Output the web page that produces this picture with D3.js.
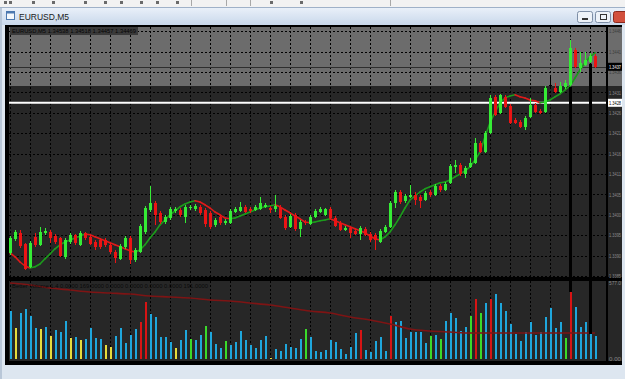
<!DOCTYPE html>
<html><head><meta charset="utf-8">
<script src="https://cdn.jsdelivr.net/npm/d3@7/dist/d3.min.js"></script>
<style>html,body{margin:0;padding:0;background:#dfe7f1;overflow:hidden}svg{display:block}</style>
</head><body><svg id="c" width="625" height="379"></svg>
<script>
// ---------- DATA ----------
const windowTitle = "EURUSD,M5";
const chartLabel = "EURUSD,M5  1.34538 1.34518 1.34457 1.34469";
const volumeLabel = "Better Volume 1.4 0.0000 169.0000 0.0000 0.0000 0.0000 0.0000 191.0000";

const open = [1.33908,1.33943,1.33958,1.33930,1.33873,1.33948,1.33928,1.33958,1.33960,1.33950,
1.33945,1.33898,1.33935,1.33953,1.33928,1.33958,1.33948,1.33935,1.33940,1.33940,
1.33928,1.33910,1.33893,1.33923,1.33945,1.33890,1.33910,1.33960,1.34015,1.34033,
1.34008,1.33985,1.33995,1.34013,1.34015,1.33998,1.34020,1.34018,1.34023,1.34015,
1.34008,1.33978,1.33998,1.33983,1.33983,1.34010,1.34013,1.34023,1.34018,1.34015,
1.34018,1.34023,1.34020,1.34018,1.34023,1.33998,1.33973,1.34003,1.33968,1.33985,
1.33980,1.33998,1.34010,1.34003,1.34018,1.33995,1.33983,1.33965,1.33970,1.33963,
1.33955,1.33968,1.33955,1.33953,1.33935,1.33960,1.33973,1.34033,1.34060,1.34038,
1.34048,1.34053,1.34048,1.34040,1.34060,1.34053,1.34075,1.34065,1.34083,1.34123,
1.34128,1.34105,1.34123,1.34133,1.34183,1.34160,1.34208,1.34298,1.34258,1.34298,
1.34275,1.34240,1.34235,1.34223,1.34248,1.34278,1.34263,1.34260,1.34328,1.34320,
1.34310,1.34323,1.34328,1.34415,1.34370,1.34378,1.34385,1.34400];
const high = [1.33950,1.33965,1.33965,1.33933,1.33938,1.33958,1.33973,1.33970,1.33965,1.33955,
1.33948,1.33945,1.33958,1.33955,1.33963,1.33960,1.33953,1.33940,1.33945,1.33945,
1.33933,1.33915,1.33930,1.33950,1.33950,1.33920,1.33980,1.34025,1.34075,1.34038,
1.34013,1.34003,1.34023,1.34023,1.34020,1.34028,1.34028,1.34030,1.34028,1.34020,
1.34013,1.33995,1.34003,1.33993,1.34018,1.34023,1.34035,1.34028,1.34023,1.34028,
1.34048,1.34033,1.34025,1.34053,1.34028,1.34003,1.34005,1.34008,1.33990,1.33990,
1.34003,1.34018,1.34023,1.34020,1.34023,1.34000,1.33988,1.33975,1.33975,1.33968,
1.33975,1.33973,1.33960,1.33958,1.33968,1.33978,1.34038,1.34065,1.34065,1.34055,
1.34078,1.34060,1.34053,1.34063,1.34065,1.34080,1.34080,1.34085,1.34130,1.34140,
1.34133,1.34125,1.34145,1.34195,1.34188,1.34213,1.34303,1.34303,1.34305,1.34303,
1.34280,1.34245,1.34240,1.34250,1.34295,1.34283,1.34268,1.34325,1.34353,1.34333,
1.34335,1.34340,1.34440,1.34420,1.34410,1.34410,1.34408,1.34405];
const low = [1.33903,1.33938,1.33920,1.33865,1.33870,1.33923,1.33925,1.33953,1.33933,1.33930,
1.33898,1.33893,1.33930,1.33928,1.33925,1.33940,1.33928,1.33915,1.33918,1.33923,
1.33905,1.33883,1.33890,1.33918,1.33880,1.33885,1.33908,1.33955,1.34010,1.33978,
1.33980,1.33980,1.33990,1.34008,1.33998,1.33983,1.34015,1.34013,1.34003,1.33973,
1.33968,1.33973,1.33978,1.33978,1.33980,1.34008,1.34010,1.34008,1.34008,1.34013,
1.34015,1.34020,1.34008,1.34010,1.33993,1.33965,1.33970,1.33963,1.33948,1.33978,
1.33978,1.33995,1.34008,1.34000,1.33993,1.33973,1.33963,1.33963,1.33945,1.33953,
1.33940,1.33950,1.33935,1.33915,1.33933,1.33958,1.33970,1.34020,1.34030,1.34033,
1.34045,1.34028,1.34020,1.34038,1.34048,1.34050,1.34060,1.34063,1.34080,1.34108,
1.34100,1.34095,1.34120,1.34130,1.34158,1.34158,1.34205,1.34250,1.34255,1.34270,
1.34230,1.34230,1.34220,1.34215,1.34245,1.34258,1.34255,1.34258,1.34320,1.34308,
1.34308,1.34318,1.34325,1.34370,1.34360,1.34375,1.34383,1.34370];
const close = [1.33945,1.33960,1.33925,1.33868,1.33933,1.33928,1.33960,1.33963,1.33945,1.33935,
1.33900,1.33940,1.33953,1.33933,1.33958,1.33945,1.33930,1.33923,1.33923,1.33928,
1.33910,1.33895,1.33925,1.33945,1.33890,1.33915,1.33975,1.34020,1.34033,1.34003,
1.33985,1.33998,1.34018,1.34018,1.34003,1.34023,1.34023,1.34025,1.34008,1.33980,
1.33973,1.33990,1.33983,1.33988,1.34013,1.34018,1.34023,1.34010,1.34013,1.34023,
1.34033,1.34028,1.34015,1.34025,1.33995,1.33970,1.34000,1.33968,1.33985,1.33983,
1.33998,1.34013,1.34018,1.34018,1.33995,1.33975,1.33965,1.33970,1.33958,1.33955,
1.33970,1.33953,1.33940,1.33940,1.33963,1.33973,1.34033,1.34060,1.34035,1.34050,
1.34053,1.34040,1.34038,1.34058,1.34053,1.34075,1.34065,1.34080,1.34125,1.34128,
1.34105,1.34120,1.34133,1.34183,1.34160,1.34208,1.34295,1.34253,1.34303,1.34273,
1.34233,1.34233,1.34223,1.34245,1.34278,1.34260,1.34258,1.34320,1.34328,1.34310,
1.34325,1.34333,1.34420,1.34373,1.34383,1.34390,1.34400,1.34373];

const maValues = [1.33908,1.33898,1.33885,1.33875,1.33870,1.33873,1.33880,1.33893,1.33905,1.33918,
1.33928,1.33935,1.33940,1.33945,1.33950,1.33955,1.33953,1.33948,1.33943,1.33938,
1.33933,1.33928,1.33923,1.33918,1.33913,1.33910,1.33915,1.33928,1.33945,1.33960,
1.33978,1.33990,1.34003,1.34013,1.34023,1.34030,1.34035,1.34038,1.34035,1.34028,
1.34020,1.34010,1.34003,1.33995,1.33993,1.33995,1.34000,1.34005,1.34010,1.34015,
1.34020,1.34023,1.34025,1.34028,1.34023,1.34015,1.34008,1.34000,1.33993,1.33985,
1.33983,1.33985,1.33988,1.33990,1.33993,1.33988,1.33983,1.33978,1.33973,1.33968,
1.33963,1.33958,1.33950,1.33943,1.33940,1.33948,1.33960,1.33978,1.33998,1.34020,
1.34040,1.34050,1.34060,1.34068,1.34073,1.34078,1.34083,1.34085,1.34090,1.34098,
1.34105,1.34113,1.34123,1.34140,1.34160,1.34198,1.34233,1.34260,1.34283,1.34295,
1.34300,1.34303,1.34298,1.34295,1.34290,1.34288,1.34283,1.34285,1.34290,1.34298,
1.34305,1.34315,1.34325,1.34345,1.34365,1.34383,1.34398,1.34408];

const volume = [364,235,349,380,326,235,228,243,175,220,
205,288,159,167,144,152,235,159,152,106,
91,175,235,121,182,228,281,433,342,319,
167,167,129,83,144,220,152,144,182,250,
205,114,83,137,106,129,213,144,106,83,
144,175,8,76,61,114,91,83,152,228,
167,61,53,68,144,129,76,38,91,197,
220,68,53,137,167,61,326,281,288,159,
205,205,205,121,175,182,152,288,349,311,
213,243,326,455,349,425,455,493,425,364,
266,190,137,205,281,182,205,319,387,235,
281,159,509,395,243,281,190,175];
// B = normal, Y = low volume, R = climax, G = churn
const volumeType = ["B","Y","B","B","B","B","Y","B","Y","B",
"B","B","Y","B","Y","B","B","B","B","Y",
"Y","B","B","B","B","B","R","R","B","B",
"B","B","B","Y","B","B","G","B","B","G",
"B","B","B","G","B","B","B","B","B","B",
"B","B","Y","B","B","B","B","B","B","G",
"B","B","B","B","B","B","B","B","B","B",
"R","B","B","B","B","B","R","B","B","B",
"B","B","B","B","G","B","G","B","B","B",
"B","B","G","R","G","B","R","B","B","B",
"B","B","B","B","B","B","B","B","B","B",
"B","G","R","B","B","B","B","B"];

const volMaBar = [0,4,8,12,16,20,24,28,32,36,40,44,48,52,56,60,64,68,72,76,80,84,88,92,96,100,104,108,112,116,117];
const volMaValue = [577,562,539,524,509,501,493,478,471,463,448,440,425,410,387,364,349,319,296,266,228,213,205,197,197,197,197,197,197,197,197];

const priceTicks = [1.33850,1.33901,1.33952,1.34003,1.34054,1.34105,1.34156,1.34207,1.34258,1.34309,1.34360,1.34411,1.34462];
const volumeTicks = [577, 0];
const volumeTickText = ["577.0", "0.00"];
const zonePrices = [1.34325, 1.34600];
const whiteLevel = 1.34283;
const bidPrice = 1.34373;
const markedBars = [112, 116];

// ---------- LAYOUT ----------
const L = 9, R = 606, mainTop = 27, mainBot = 277, volTop = 281, volBot = 361, axisR = 622;
const FONT = 'Liberation Sans, Arial, sans-serif';
const svg = d3.select('#c');
const defs = svg.append('defs');
const tg = defs.append('linearGradient').attr('id','tb').attr('x1',0).attr('y1',0).attr('x2',0).attr('y2',1);
tg.append('stop').attr('offset','0%').attr('stop-color','#e9f0f9');
tg.append('stop').attr('offset','100%').attr('stop-color','#c9d8eb');
defs.append('clipPath').attr('id','mainClip').append('rect').attr('x',L).attr('y',mainTop).attr('width',R-L).attr('height',mainBot-mainTop);
defs.append('clipPath').attr('id','volClip').append('rect').attr('x',L).attr('y',volTop).attr('width',R-L).attr('height',volBot-volTop);
defs.append('clipPath').attr('id','zoneClip').append('rect').attr('x',L).attr('y',mainTop).attr('width',axisR-L).attr('height',mainBot-mainTop);

const x = d3.scaleLinear().domain([0, open.length-1]).range([10, 595]);
const y = d3.scaleLinear().domain([1.33850, 1.34540]).range([276, 0]);
const yv = d3.scaleLinear().domain([0, 577]).range([359, 283]);

// window frame
svg.append('rect').attr('width',625).attr('height',379).attr('fill','#dde6f0');
svg.append('rect').attr('x',0).attr('y',0).attr('width',625).attr('height',7).attr('fill','#f2f2f2');
[191,226,250,390].forEach(sx=>svg.append('rect').attr('x',sx).attr('y',0).attr('width',1).attr('height',6).attr('fill','#a8a8a8'));
[4,9,32,52,84,104,120,140,156,176,270,300].forEach(gx=>svg.append('rect').attr('x',gx).attr('y',1).attr('width',3).attr('height',3).attr('fill','#6a6a6a'));
svg.append('rect').attr('x',0).attr('y',7).attr('width',625).attr('height',1).attr('fill','#9fb1c8');
svg.append('rect').attr('x',0).attr('y',8).attr('width',625).attr('height',17).attr('fill','url(#tb)');
svg.append('rect').attr('x',0).attr('y',8).attr('width',2).attr('height',371).attr('fill','#b9c7d8');
// title icon
svg.append('rect').attr('x',6.5).attr('y',11.5).attr('width',8).attr('height',8).attr('fill','#f4f8fc').attr('stroke','#4d79b0');
svg.append('rect').attr('x',6.5).attr('y',11.5).attr('width',8).attr('height',2).attr('fill','#4d79b0');
svg.append('text').attr('x',19).attr('y',19.5).attr('font-family',FONT).attr('font-size',8.5).attr('fill','#1a1a1a').text(windowTitle);
// buttons
[[577,'min'],[595,'max']].forEach(([bx,k])=>{
  svg.append('rect').attr('x',bx+0.5).attr('y',11.5).attr('width',15).attr('height',11).attr('rx',2).attr('fill','#edf2f8').attr('stroke','#7d8ea6');
  if(k==='min') svg.append('rect').attr('x',bx+5).attr('y',18).attr('width',6).attr('height',2).attr('fill','#333');
  else svg.append('rect').attr('x',bx+5.5).attr('y',14.5).attr('width',6).attr('height',5).attr('fill','none').attr('stroke','#333');
});
svg.append('rect').attr('x',613.5).attr('y',11.5).attr('width',16).attr('height',11).attr('rx',2).attr('fill','#d2503d').attr('stroke','#8a2a1e');

// black chart container
svg.append('rect').attr('x',5).attr('y',25).attr('width',617).attr('height',340).attr('fill','#000');
// backgrounds
svg.append('rect').attr('x',L).attr('y',mainTop).attr('width',axisR-L).attr('height',mainBot-mainTop).attr('fill','#272727');
svg.append('rect').attr('x',L).attr('y',volTop).attr('width',axisR-L).attr('height',volBot-volTop).attr('fill','#272727');

// zone
svg.append('rect').attr('clip-path','url(#zoneClip)')
  .attr('x',L).attr('width',axisR-L)
  .attr('y',y(zonePrices[1])).attr('height',y(zonePrices[0])-y(zonePrices[1]))
  .attr('fill','#6c6c6c');

// grid
const gridG = svg.append('g').attr('stroke','#000').attr('stroke-width',1).attr('stroke-dasharray','2,2').attr('shape-rendering','crispEdges');
priceTicks.forEach(p=>{
  const yy = Math.round(y(p))+0.5;
  gridG.append('line').attr('x1',L).attr('x2',R).attr('y1',yy).attr('y2',yy);
});
d3.range(0, open.length, 4).forEach(i=>{
  const xx = Math.round(x(i))+0.5;
  gridG.append('line').attr('x1',xx).attr('x2',xx).attr('y1',mainTop).attr('y2',mainBot);
  gridG.append('line').attr('x1',xx).attr('x2',xx).attr('y1',volTop).attr('y2',volBot);
});

const main = svg.append('g').attr('clip-path','url(#mainClip)');
// bid line and white level
main.append('line').attr('x1',L).attr('x2',R).attr('y1',Math.round(y(bidPrice))+0.5).attr('y2',Math.round(y(bidPrice))+0.5).attr('stroke','#2e2e2e').attr('stroke-width',1);
main.append('line').attr('x1',L).attr('x2',R).attr('y1',y(whiteLevel)).attr('y2',y(whiteLevel)).attr('stroke','#ffffff').attr('stroke-width',2);

// MA line, coloured by direction
for(let i=1;i<maValues.length;i++){
  main.append('line').attr('x1',x(i-1)).attr('y1',y(maValues[i-1])).attr('x2',x(i)).attr('y2',y(maValues[i]))
    .attr('stroke', maValues[i] >= maValues[i-1] ? '#1c9c1c' : '#e01a1a').attr('stroke-width',1.6).attr('stroke-linecap','round');
}

// candles
const cg = main.append('g').attr('shape-rendering','crispEdges');
open.forEach((o,i)=>{
  const c = close[i];
  const col = c > o ? '#35ec35' : (c < o ? '#ec1414' : '#000000');
  const cx = Math.round(x(i));
  cg.append('line').attr('x1',cx+0.5).attr('x2',cx+0.5).attr('y1',y(high[i])).attr('y2',y(low[i])).attr('stroke',col).attr('stroke-width',1);
  const top = y(Math.max(o,c)), bot = y(Math.min(o,c));
  cg.append('rect').attr('x',cx-1).attr('width',3).attr('y',top).attr('height',Math.max(1,bot-top)).attr('fill',col);
});

// volume
const vg = svg.append('g').attr('clip-path','url(#volClip)');
const vcol = {B:'#1ea6dc', Y:'#e6dc3c', R:'#d81414', G:'#3ada2a'};
const vbars = vg.append('g').attr('shape-rendering','crispEdges');
volume.forEach((v,i)=>{
  const cx = Math.round(x(i));
  vbars.append('rect').attr('x',cx-0.5).attr('width',2).attr('y',yv(v)).attr('height',yv(0)-yv(v)).attr('fill',vcol[volumeType[i]]);
});
vg.append('path').datum(volMaBar.map((b,k)=>[b,volMaValue[k]]))
  .attr('d', d3.line().x(d=>x(d[0])).y(d=>yv(d[1])).curve(d3.curveMonotoneX))
  .attr('fill','none').attr('stroke','#7e1414').attr('stroke-width',1.6);

// marked bars (black connector lines)
markedBars.forEach(i=>{
  svg.append('line').attr('x1',x(i)+0.5).attr('x2',x(i)+0.5).attr('y1',y(low[i])+1).attr('y2',yv(volume[i]))
    .attr('stroke','#000').attr('stroke-width',3);
});

// separators
svg.append('rect').attr('x',L).attr('y',mainBot).attr('width',axisR-L).attr('height',volTop-mainBot).attr('fill','#000');
svg.append('rect').attr('x',R).attr('y',mainTop).attr('width',2).attr('height',volBot-mainTop).attr('fill','#000');

// axes (labels squeezed into the narrow visible price strip)
const zoneBottomY = y(zonePrices[0]);
const fmt4 = d3.format('.4f');
const pa = svg.append('g').attr('transform',`translate(${R+3},0)`)
  .call(d3.axisRight(y).tickValues(priceTicks).tickSize(0).tickPadding(0).tickFormat(fmt4));
pa.select('.domain').remove();
pa.selectAll('text').attr('font-family',FONT).attr('font-size',5.5)
  .attr('textLength',12).attr('lengthAdjust','spacingAndGlyphs')
  .attr('fill',d=> y(d) < zoneBottomY ? '#3c3c3c' : '#8a8a8a');
const va = svg.append('g').attr('transform',`translate(${R+3},0)`)
  .call(d3.axisRight(yv).tickValues(volumeTicks).tickSize(0).tickPadding(0).tickFormat((d,k)=>volumeTickText[k]));
va.select('.domain').remove();
va.selectAll('text').attr('font-family',FONT).attr('font-size',5.5)
  .attr('textLength',12).attr('lengthAdjust','spacingAndGlyphs').attr('fill','#8a8a8a');
// price tags
const bidY = y(bidPrice), whiteY = y(whiteLevel);
svg.append('rect').attr('x',R+2).attr('y',bidY-4).attr('width',14).attr('height',8).attr('fill','#000');
svg.append('text').attr('x',R+3).attr('y',bidY+2).attr('font-family',FONT).attr('font-size',5.5).attr('font-weight','bold')
  .attr('textLength',12).attr('lengthAdjust','spacingAndGlyphs').attr('fill','#c4c4c4').text(fmt4(bidPrice));
svg.append('rect').attr('x',R+2).attr('y',whiteY-4).attr('width',14).attr('height',8).attr('fill','#fff');
svg.append('text').attr('x',R+3).attr('y',whiteY+2).attr('font-family',FONT).attr('font-size',5.5)
  .attr('textLength',12).attr('lengthAdjust','spacingAndGlyphs').attr('fill','#000').text(fmt4(whiteLevel));

// labels
svg.append('rect').attr('x',L+1).attr('y',mainTop).attr('width',128).attr('height',8).attr('fill','#3a3a3a');
svg.append('text').attr('x',L+3).attr('y',mainTop+6.2).attr('font-family',FONT).attr('font-size',6)
  .attr('textLength',124).attr('lengthAdjust','spacingAndGlyphs').attr('fill','#050505').text(chartLabel);
svg.append('text').attr('x',12).attr('y',volTop+6.5).attr('font-family',FONT).attr('font-size',5.5)
  .attr('textLength',196).attr('lengthAdjust','spacingAndGlyphs').attr('fill','#0a0a0a').text(volumeLabel);
</script></body></html>
